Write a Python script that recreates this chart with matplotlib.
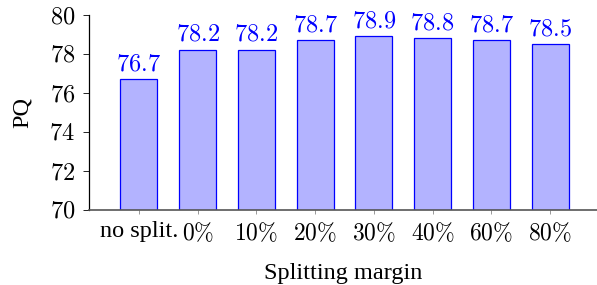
import numpy as np
import matplotlib.pyplot as plt

plt.rcParams['font.family'] = 'Liberation Serif'
plt.rcParams['mathtext.fontset'] = 'cm'

categories = ['no split.', '0%', '10%', '20%', '30%', '40%', '60%', '80%']
pq = [76.7, 78.2, 78.2, 78.7, 78.9, 78.8, 78.7, 78.5]
yticks = [70, 72, 74, 76, 78, 80]

fig = plt.figure(figsize=(5.97, 2.85), dpi=100)
ax = fig.add_axes([89/597, 75/285, 1 - 89/597, 195/285])

x = np.arange(len(categories))
ax.bar(x, pq, width=0.63, color='#b3b3ff', edgecolor='#0000ff', linewidth=0.9, zorder=2)
for xi, v in zip(x, pq):
    ax.annotate(r'$%.1f$' % v, (xi, v), xytext=(0, 3), textcoords='offset points',
                ha='center', va='bottom', color='#0000ff', fontsize=17.5)

ax.set_xlim(-0.85, 7.8)
ax.set_ylim(70, 80)
ax.set_yticks(yticks)
ax.set_yticklabels([r'$%d$' % t for t in yticks], fontsize=17.5)
ax.set_xticks(x)
labels = [c if c == 'no split.' else r'$%s\%%$' % c[:-1] for c in categories]
ax.set_xticklabels(labels, fontsize=17)
ax.get_xticklabels()[0].set_fontsize(17.5)

ax.spines['top'].set_visible(False)
ax.spines['right'].set_visible(False)
ax.spines['left'].set_linewidth(0.9)
ax.spines['bottom'].set_color('#555555')
ax.spines['bottom'].set_linewidth(1.2)
ax.tick_params(axis='y', length=4, width=0.6, pad=6)
ax.tick_params(axis='x', length=3, width=0.6, color='#888888', pad=5)

ax.set_ylabel('PQ', fontsize=17.5, labelpad=12)
ax.set_xlabel('Splitting margin', fontsize=17.5, labelpad=13)

fig.savefig('out.png', dpi=100)
